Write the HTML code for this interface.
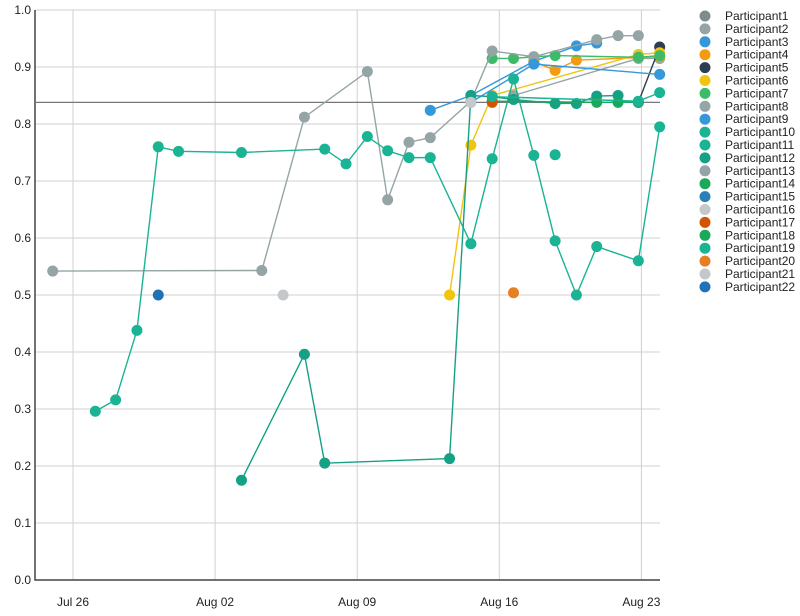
<!DOCTYPE html>
<html><head><meta charset="utf-8"><style>
body{margin:0;background:#fff;font-family:"Liberation Sans",sans-serif}
svg text{font-family:"Liberation Sans",sans-serif;font-size:12px;fill:#222}
</style></head><body>
<svg id="chart" width="800" height="611"></svg>
<script>
const yTicks=[0,0.1,0.2,0.3,0.4,0.5,0.6,0.7,0.8,0.9,1.0];
const xTickDays=[0,7,14,21,28];
const xTickLabels=["Jul 26","Aug 02","Aug 09","Aug 16","Aug 23"];
const refValue=0.838;
const names=["Participant1","Participant2","Participant3","Participant4","Participant5","Participant6","Participant7","Participant8","Participant9","Participant10","Participant11","Participant12","Participant13","Participant14","Participant15","Participant16","Participant17","Participant18","Participant19","Participant20","Participant21","Participant22"];
const colors=["#7f8c8d","#95a5a6","#3498db","#f39c12","#2c3e50","#f1c40f","#3dbb68","#95a5a6","#3498db","#1ab394","#1ab394","#16a085","#95a5a6","#1aa85a","#2980b9","#c4c8cb","#d35400","#1aa85a","#1ab394","#e67e22","#c4c8cb","#2072b8"];
const p1=[];
const p2=[[21.7,.85],[27.85,.915],[28.9,.915]];
const p3=[[17.6,.824],[19.6,.85],[22.7,.91],[24.8,.937],[25.8,.942]];
const p4=[[22.7,.91],[23.75,.894],[24.8,.912],[28.9,.918]];
const p5=[[27.85,.838],[28.9,.935]];
const p6=[[18.55,.5],[19.6,.763],[20.65,.85],[27.85,.922],[28.9,.925]];
const p7=[[20.65,.915],[21.7,.915],[22.7,.918],[23.75,.92],[27.85,.917],[28.9,.92]];
const p8=[[-1,.542],[9.3,.543],[11.4,.812],[14.5,.892],[15.5,.667],[16.55,.768],[17.6,.776],[19.6,.84],[20.65,.928],[22.7,.918],[25.8,.948],[26.85,.955],[27.85,.955]];
const p9=[[19.6,.838],[22.7,.905],[28.9,.887]];
const p10=[[1.1,.296],[2.1,.316],[3.15,.438],[4.2,.76],[5.2,.752],[8.3,.75],[12.4,.756],[13.45,.73],[14.5,.778],[15.5,.753],[16.55,.741],[17.6,.741],[19.6,.59],[20.65,.739],[21.7,.879],[22.7,.745],[23.75,.595],[24.8,.5],[25.8,.585],[27.85,.56],[28.9,.795]];
const p11=[[23.75,.746]];
const p12=[[8.3,.175],[11.4,.396],[12.4,.205],[18.55,.213],[19.6,.85],[20.65,.848],[21.7,.843],[23.75,.836],[24.8,.836],[25.8,.849],[26.85,.85]];
const p13=[];
const p14=[[20.65,.84],[25.8,.838],[26.85,.838],[27.85,.838]];
const p15=[];
const p16=[[10.35,.5]];
const p17=[[20.65,.838]];
const p18=[];
const p19=[[20.65,.848],[27.85,.84],[28.9,.855]];
const p20=[[21.7,.504]];
const p21=[[19.6,.838]];
const p22=[[4.2,.5]];
const seriesData=[p1,p2,p3,p4,p5,p6,p7,p8,p9,p10,p11,p12,p13,p14,p15,p16,p17,p18,p19,p20,p21,p22];

const NS="http://www.w3.org/2000/svg";
const svg=document.getElementById('chart');
const L=35,R=660,T=10,B=580;
const xs=d=>73+d*20.3;
const ys=v=>B-(v)*(B-T);
function mk(tag,attrs,parent){const e=document.createElementNS(NS,tag);for(const k in attrs)e.setAttribute(k,attrs[k]);(parent||svg).appendChild(e);return e;}

yTicks.forEach(t=>{
  const g=mk('line',{x1:L,x2:R,y1:ys(t),y2:ys(t),stroke:'#d0d0d0','stroke-width':1});
  
  
  const tx=mk('text',{x:31,y:ys(t)+4,'text-anchor':'end'});
  tx.textContent=t.toFixed(1);
  
  
});
xTickDays.forEach((d,i)=>{
  const g=mk('line',{x1:xs(d),x2:xs(d),y1:T,y2:B,stroke:'#d0d0d0','stroke-width':1});
  
  
  const tx=mk('text',{x:xs(d),y:606,'text-anchor':'middle'});
  tx.textContent=xTickLabels[i];
  
  
});
const ax=mk('path',{d:`M${L},${T}V${B}H${R}`,stroke:'#444',fill:'none','stroke-width':1.5});


const ref=mk('line',{x1:L,x2:R,y1:ys(refValue),y2:ys(refValue),stroke:'#777','stroke-width':1.3});



seriesData.forEach((s,i)=>{
  if(!s.length)return;
  const g=mk('g',{});
  
  
  if(s.length>1){
    const pl=mk('polyline',{points:s.map(p=>xs(p[0])+','+ys(p[1])).join(' '),fill:'none',stroke:colors[i],'stroke-width':1.4},g);
    
    
  }
  s.forEach(p=>{
    const c=mk('circle',{cx:xs(p[0]),cy:ys(p[1]),r:5.5,fill:colors[i]},g);
    
    
  });
});

names.forEach((n,i)=>{
  const g=mk('g',{});
  
  
  const y=16+i*12.9;
  mk('circle',{cx:705,cy:y,r:5.5,fill:colors[i]},g);
  const t=mk('text',{x:725,y:y+4},g);
  t.textContent=n;
});
</script>
</body></html>
